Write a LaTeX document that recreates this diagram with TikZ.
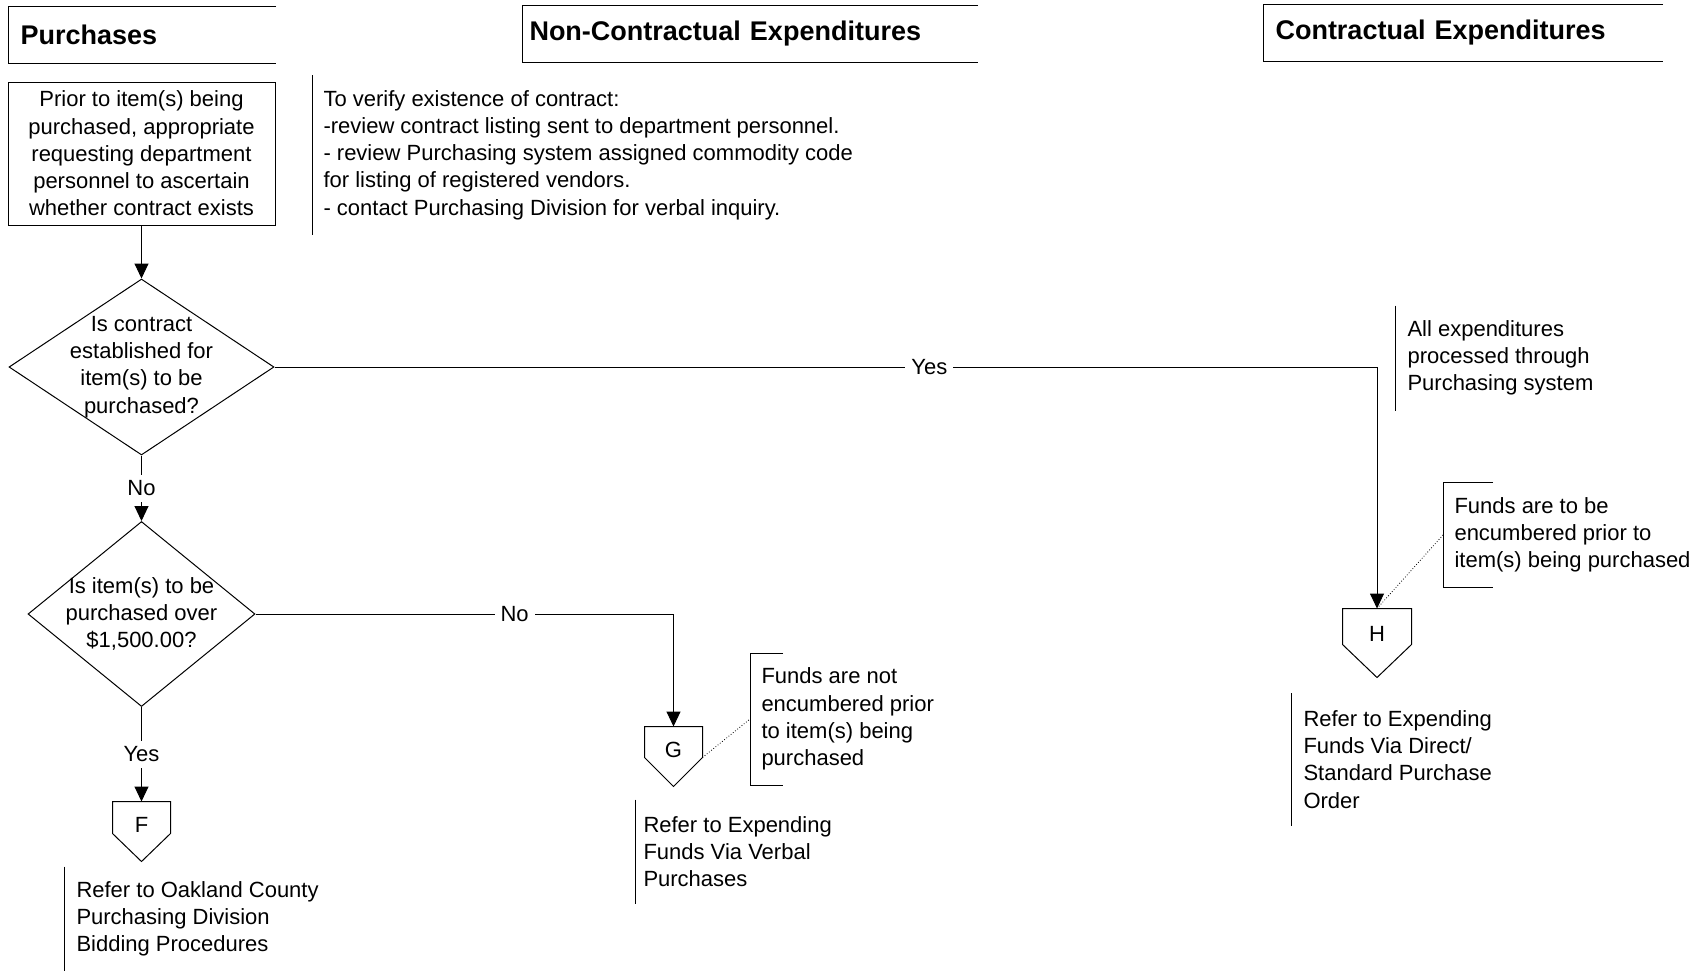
\documentclass[tikz,border=0pt]{standalone}
\usepackage{fontspec}
\setmainfont{Liberation Sans}
\usetikzlibrary{shapes.geometric,arrows.meta}

\begin{document}
\begin{tikzpicture}[x=0.5pt,y=-0.5pt,line width=0.5pt,
  font=\fontsize{11}{13.6}\selectfont,
  head/.style={font=\fontsize{13.5}{16}\selectfont\bfseries, align=left,
    anchor=north west, inner ysep=0pt, minimum height=28pt},
  box/.style={draw, align=center, inner sep=0pt},
  decision/.style={diamond, draw, inner sep=0pt},
  offpage/.style={inner sep=0pt, text height=15pt, text depth=0pt},
  note/.style={align=left, anchor=west, inner xsep=5.5pt, inner ysep=0pt},
  lbl/.style={fill=white, inner sep=3pt},
  arr/.style={-{Triangle[length=7.5pt,width=7pt]}}]
\useasboundingbox (0,0) rectangle (1697,970);

% column headings
\node[head, text width=121.5pt, inner xsep=6pt] (PU) at (8,6) {Purchases};
\node[head, text width=220.5pt, inner xsep=3.5pt] (NC) at (522,5) {Non-Contractual Expenditures};
\node[head, text width=187.5pt, inner xsep=6pt] (CO) at (1263,4) {Contractual Expenditures};
\foreach \h in {PU,NC,CO}
\draw (\h.north east) -- (\h.north west) -- (\h.south west) -- (\h.south east);

% flow
\node[box, minimum width=133.5pt, minimum height=71.5pt] (PR) at (141.5,153.5)
  {Prior to item(s) being\\purchased, appropriate\\requesting department\\personnel to ascertain\\whether contract exists};
\node[decision, minimum width=132.5pt, minimum height=88pt] (Q1) at (141.5,367) {};
\node[align=center] (Q1t) at (Q1) {Is contract\\established for\\item(s) to be\\purchased?};
\node[decision, minimum width=113.5pt, minimum height=92.5pt] (Q2) at (141.5,614) {};
\node[align=center] (Q2t) at (Q2) {Is item(s) to be\\purchased over\\\$1,500.00?};
\node[offpage, minimum width=28.5pt, minimum height=15.5pt] (F) at (141.5,817.5) {F};
\node[offpage, minimum width=28.5pt, minimum height=15pt] (G) at (673.5,742) {G};
\node[offpage, minimum width=34pt, minimum height=17.5pt] (H) at (1377,626.5) {H};
\foreach \n/\t in {F/14pt,G/14.5pt,H/16.5pt}
\draw (\n.north west) -- (\n.north east) -- (\n.south east) -- ([yshift=-\t]\n.south) -- (\n.south west) -- cycle;

\draw[arr] (PR) -- (Q1);
\foreach \from/\to/\txt in {Q1/Q2/No,Q2/F/Yes}
\draw[arr] (\from) -- node[lbl] {\txt} (\to);
\draw[arr] (Q1) -| node[lbl, pos=0.297] {Yes} (H);
\draw[arr] (Q2) -| node[lbl, pos=0.31] {No} (G);

% notes
\node[note, minimum height=79.5pt] (VN) at (312,155)
  {To verify existence of contract:\\-review contract listing sent to department personnel.\\- review Purchasing system assigned commodity code\\for listing of registered vendors.\\- contact Purchasing Division for verbal inquiry.};
\node[note, minimum height=52pt, inner xsep=6pt] (AN) at (1395,358)
  {All expenditures\\processed through\\Purchasing system};
\node[note, minimum height=65.5pt] (GN) at (750,719)
  {Funds are not\\encumbered prior\\to item(s) being\\purchased};
\node[note, minimum height=52pt] (HN) at (1443,535)
  {Funds are to be\\encumbered prior to\\item(s) being purchased};
\node[note, minimum height=51.5pt, inner xsep=6pt] (FR) at (64,918.5)
  {Refer to Oakland County\\Purchasing Division\\Bidding Procedures};
\node[note, minimum height=51.5pt, inner xsep=4pt] (GR) at (635,851.5)
  {Refer to Expending\\Funds Via Verbal\\Purchases};
\node[note, minimum height=66pt, inner xsep=6pt] (HR) at (1291,759.5)
  {Refer to Expending\\Funds Via Direct/\\Standard Purchase\\Order};
\foreach \n in {VN,AN,FR,GR,HR}
\draw (\n.north west) -- (\n.south west);
\foreach \n/\s in {GN/16.5pt,HN/25pt}
\draw ([xshift=\s]\n.north west) -- (\n.north west) -- (\n.south west) -- ([xshift=\s]\n.south west);
\draw[densely dotted, line width=0.4pt] (G.south east) -- (GN.west);
\draw[densely dotted, line width=0.4pt] (HN.west) -- (H.north);
\end{tikzpicture}
\end{document}
